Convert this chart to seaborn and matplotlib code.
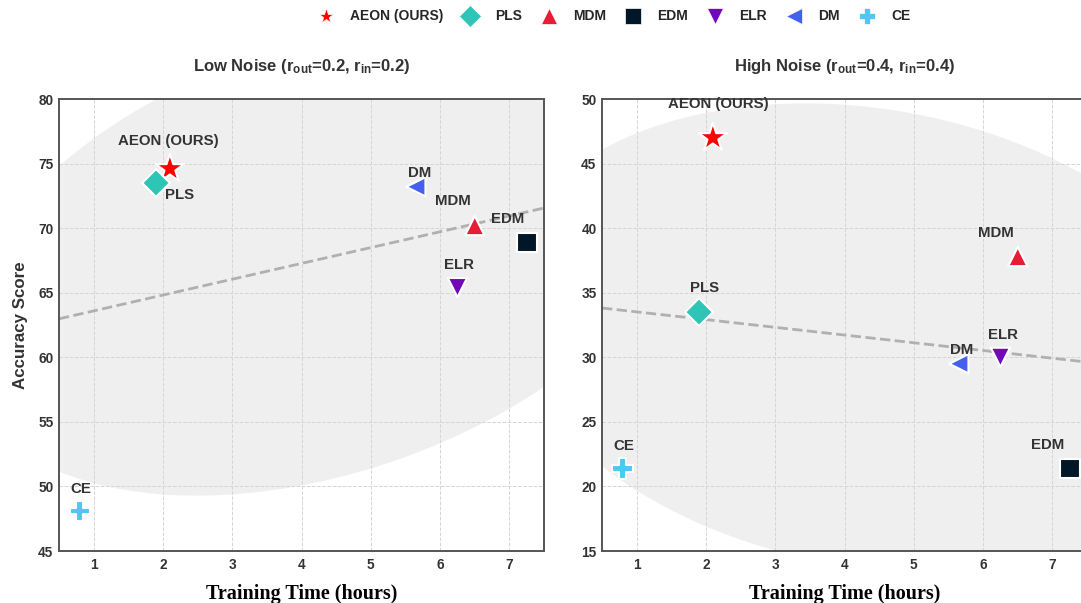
import numpy as np
import pandas as pd
import matplotlib
matplotlib.use("Agg")
import matplotlib.pyplot as plt
import matplotlib.transforms as mtransforms
from matplotlib.patches import Ellipse
from matplotlib.lines import Line2D
import seaborn as sns

# ---- data ---------------------------------------------------------------
methods = ["AEON (OURS)", "PLS", "MDM", "EDM", "ELR", "DM", "CE"]
train_hours = [2.1, 1.9, 6.5, 7.25, 6.25, 5.65, 0.8]
acc_low = [74.6, 73.5, 70.2, 68.9, 65.4, 73.2, 48.1]
acc_high = [47.0, 33.5, 37.8, 21.4, 30.0, 29.5, 21.4]

x_ticks = [1, 2, 3, 4, 5, 6, 7]
low_yticks = [45, 50, 55, 60, 65, 70, 75, 80]
high_yticks = [15, 20, 25, 30, 35, 40, 45, 50]

colors = {"AEON (OURS)": "#ff0000", "PLS": "#2ec4b6", "MDM": "#e71d36",
          "EDM": "#011627", "ELR": "#7209b7", "DM": "#4361ee", "CE": "#4cc9f0"}
markers = {"AEON (OURS)": "*", "PLS": "D", "MDM": "^", "EDM": "s",
           "ELR": "v", "DM": "<", "CE": "P"}
sizes = {"AEON (OURS)": 460, "PLS": 200, "MDM": 190, "EDM": 200,
         "ELR": 190, "DM": 190, "CE": 220}

# label offsets (points) for each panel
low_offsets = {"AEON (OURS)": (-1, 20), "PLS": (17, -9), "DM": (3, 10),
               "MDM": (-16, 18), "EDM": (-14, 17), "ELR": (1, 16), "CE": (1, 16)}
high_offsets = {"AEON (OURS)": (4, 24), "PLS": (4, 17), "MDM": (-16, 17),
                "DM": (2, 10), "ELR": (2, 16), "EDM": (-16, 17), "CE": (1, 16)}

# ---- style --------------------------------------------------------------
sns.set_theme(style="white")
plt.rcParams["font.family"] = ["Liberation Sans", "DejaVu Sans"]
plt.rcParams["font.weight"] = "bold"
plt.rcParams["mathtext.fontset"] = "custom"
plt.rcParams["mathtext.rm"] = "Liberation Sans:bold"
plt.rcParams["mathtext.bf"] = "Liberation Sans:bold"
plt.rcParams["mathtext.it"] = "Liberation Sans:bold"

TEXT = "#333333"


def confidence_ellipse(ax, x, y, n_std=2.0, **kw):
    x = np.asarray(x, float)
    y = np.asarray(y, float)
    cov = np.cov(x, y)
    pearson = cov[0, 1] / np.sqrt(cov[0, 0] * cov[1, 1])
    rx = np.sqrt(1 + pearson)
    ry = np.sqrt(1 - pearson)
    ell = Ellipse((0, 0), width=rx * 2, height=ry * 2, **kw)
    tr = (mtransforms.Affine2D().rotate_deg(45)
          .scale(np.sqrt(cov[0, 0]) * n_std, np.sqrt(cov[1, 1]) * n_std)
          .translate(np.mean(x), np.mean(y)))
    ell.set_transform(tr + ax.transData)
    ax.add_patch(ell)


def draw_panel(ax, acc, yticks, title, offsets):
    df = pd.DataFrame({"method": methods, "hours": train_hours, "acc": acc})
    ax.set_xlim(0.5, 7.5)
    ax.set_ylim(yticks[0], yticks[-1])
    ax.set_axisbelow(True)
    ax.grid(True, color="#d5d5d5", linestyle="--", linewidth=0.7, zorder=0.5)

    confidence_ellipse(ax, df["hours"], df["acc"], n_std=2.0,
                       facecolor="#808080", alpha=0.12, edgecolor="none", zorder=0.2)

    sns.regplot(data=df, x="hours", y="acc", ax=ax, scatter=False, ci=None,
                truncate=False,
                line_kws=dict(color="#b0b0b0", linestyle="--", linewidth=2, zorder=1))

    sns.scatterplot(data=df, x="hours", y="acc", hue="method", style="method",
                    size="method", sizes=sizes, palette=colors, markers=markers,
                    edgecolor="white", linewidth=1.5, ax=ax, legend=False, zorder=3)

    for m, hx, ay in zip(methods, train_hours, acc):
        dx, dy = offsets[m]
        ax.annotate(m, xy=(hx, ay), xytext=(dx, dy), textcoords="offset points",
                    ha="center", va="center", fontsize=10.8, fontweight="bold",
                    color=TEXT, zorder=4)

    ax.set_xticks(x_ticks)
    ax.set_yticks(yticks)
    ax.tick_params(axis="x", length=0, labelsize=9.8, labelcolor=TEXT, pad=5)
    ax.tick_params(axis="y", length=0, labelsize=9.8, labelcolor=TEXT, pad=4)
    for lab in ax.get_xticklabels() + ax.get_yticklabels():
        lab.set_fontweight("bold")
    for sp in ax.spines.values():
        sp.set_color("#555555")
        sp.set_linewidth(1.4)
    ax.set_title(title, fontsize=12, fontweight="bold", color=TEXT, pad=20)
    ax.set_xlabel("Training Time (hours)", fontsize=14.5, fontweight="bold",
                  family="Liberation Serif", color="black", labelpad=9)


fig = plt.figure(figsize=(10.81, 6.03), dpi=100)
ax1 = fig.add_axes([0.0546, 0.0862, 0.4487, 0.7496])
ax2 = fig.add_axes([0.5569, 0.0862, 0.4487, 0.7496])

draw_panel(ax1, acc_low, low_yticks,
           r"Low Noise (r$_{\mathbf{out}}$=0.2, r$_{\mathbf{in}}$=0.2)", low_offsets)
draw_panel(ax2, acc_high, high_yticks,
           r"High Noise (r$_{\mathbf{out}}$=0.4, r$_{\mathbf{in}}$=0.4)", high_offsets)

ax1.set_ylabel("Accuracy Score", fontsize=12.2, fontweight="bold", color=TEXT, labelpad=7)
ax2.set_ylabel("")

handles = [Line2D([], [], linestyle="none", marker=markers[m], color=colors[m],
                  markersize=11, markeredgecolor="white", markeredgewidth=0.5)
           for m in methods]
fig.legend(handles, methods, loc="upper center", bbox_to_anchor=(0.567, 1.005),
           ncol=7, frameon=False, prop=dict(weight="bold", size=10),
           columnspacing=1.2, handletextpad=1.0, handlelength=1.5)

fig.savefig("out.png", dpi=100)
